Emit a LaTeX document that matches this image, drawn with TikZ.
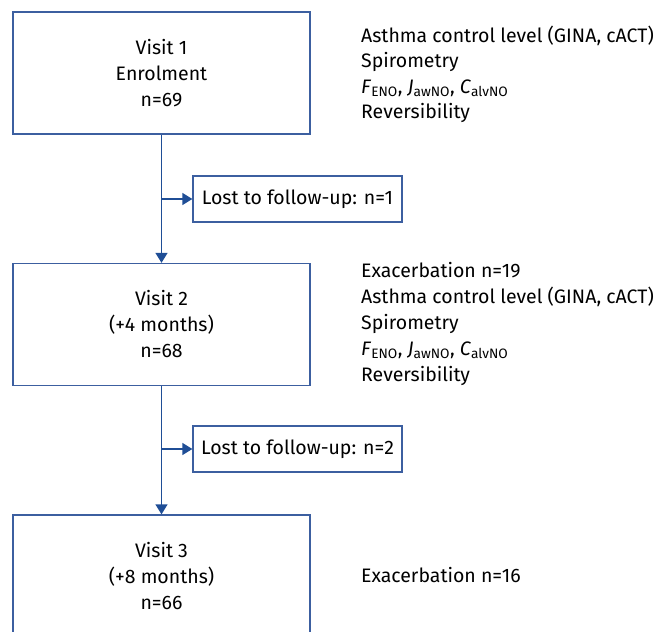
\documentclass[tikz,border=0pt]{standalone}
\usepackage{fontspec}
\setmainfont{Fira Sans}
\usetikzlibrary{arrows.meta}
\definecolor{boxblue}{RGB}{60,95,160}
\definecolor{arrblue}{RGB}{31,78,150}
\newcommand{\fluxes}{\textit{F}\textsubscript{ENO}, \textit{J}\textsubscript{awNO}, \textit{C}\textsubscript{alvNO}}
\begin{document}
\begin{tikzpicture}[x=1pt,y=-1pt,
  font=\fontsize{19.5}{26}\selectfont,
  visit/.style={draw=boxblue, line width=1.3pt, minimum width=297pt, minimum height=122pt, align=center, inner sep=0pt},
  lost/.style={draw=boxblue, line width=1.3pt, minimum width=209pt, minimum height=46pt, inner sep=0pt},
  info/.style={anchor=base west, inner sep=0pt},
  flow/.style={draw=arrblue, line width=1.3pt, -{Triangle[length=10pt,width=12pt]}}]
\clip (0,0) rectangle (659,632);
\node[visit] (v1) at (161.5,73) {Visit 1\\Enrolment\\n=69};
\node[visit] (v2) at (161.5,324.5) {Visit 2\\(+4 months)\\n=68};
\node[visit] (v3) at (161.5,576) {Visit 3\\(+8 months)\\n=66};
\node[lost] (l1) at (297.5,199) {Lost to follow-up: n=1};
\node[lost] (l2) at (297.5,449) {Lost to follow-up: n=2};
\coordinate (b1) at (v1.south |- l1.west);
\coordinate (b2) at (v2.south |- l2.west);
\draw[flow] (v1.south) -- (v2.north);
\draw[flow] (v2.south) -- (v3.north);
\draw[flow] (b1) -- (l1.west);
\draw[flow] (b2) -- (l2.west);
\node[info] (a1) at (361,42) {Asthma control level (GINA, cACT)};
\node[info] (a2) at (361,67.5) {Spirometry};
\node[info] (a3) at (361,93) {\fluxes};
\node[info] (a4) at (361,118) {Reversibility};
\node[info] (b1t) at (361,277) {Exacerbation n=19};
\node[info] (b2t) at (361,303) {Asthma control level (GINA, cACT)};
\node[info] (b3t) at (361,329) {Spirometry};
\node[info] (b4t) at (361,355) {\fluxes};
\node[info] (b5t) at (361,381) {Reversibility};
\node[info] (c1) at (361,582) {Exacerbation n=16};
\end{tikzpicture}
\end{document}
